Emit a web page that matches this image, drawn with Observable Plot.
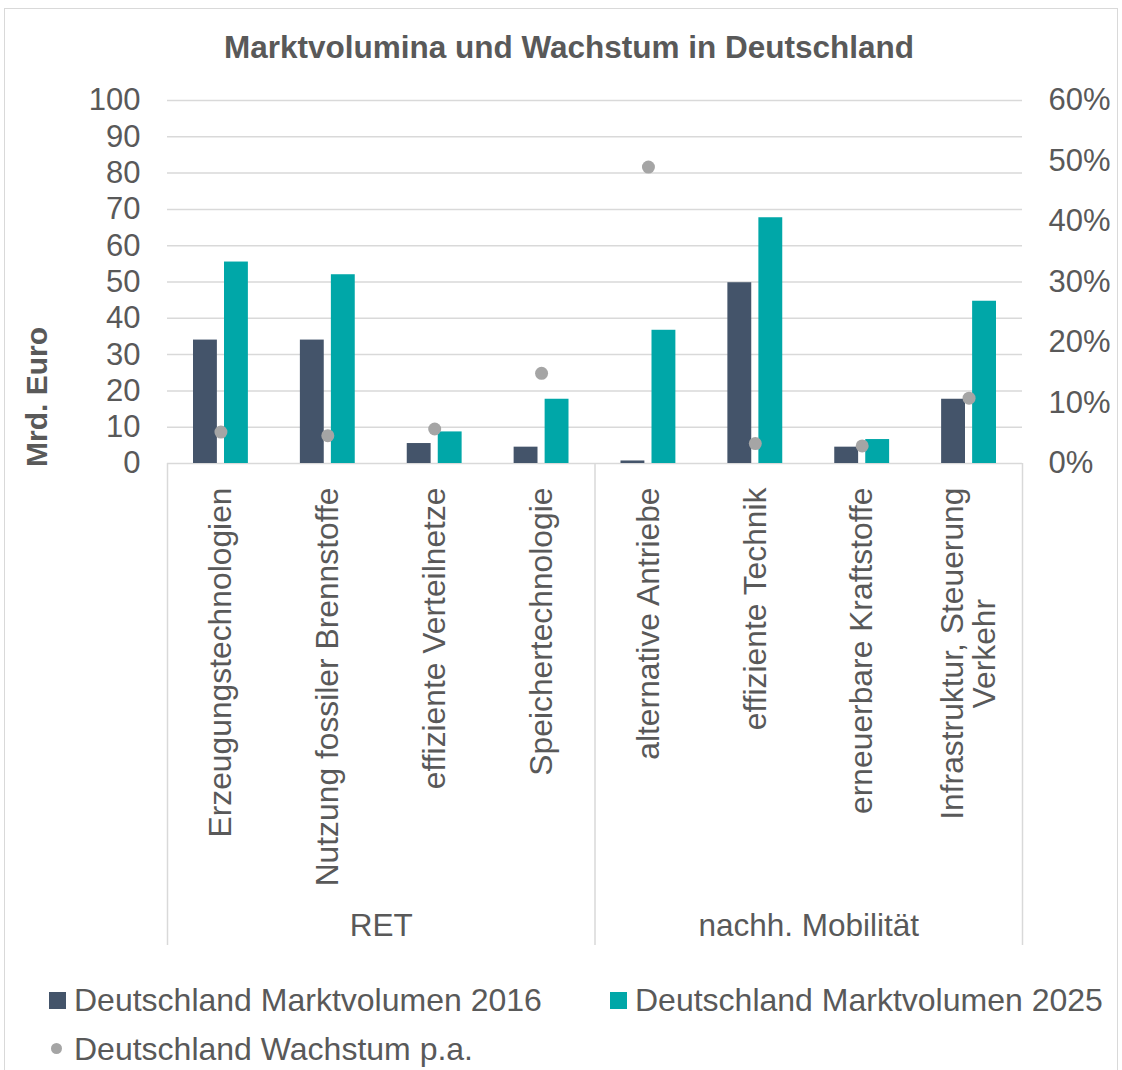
<!DOCTYPE html>
<html>
<head>
<meta charset="utf-8">
<script src="https://cdn.jsdelivr.net/npm/d3@7"></script>
<script src="https://cdn.jsdelivr.net/npm/@observablehq/plot@0.6"></script>
<style>
  body { margin: 0; background: #fff; font-family: "Liberation Sans", Arial, sans-serif; color: #595959; }
  #frame { position: absolute; left: 4px; top: 8px; width: 1114px; height: 1080px; border: 1.5px solid #d9d9d9; box-sizing: border-box; }
  #title { position: absolute; left: 0; top: 29px; width: 1138px; text-align: center; font-weight: bold; font-size: 31.5px; line-height: 36px; }
  #ylabel { position: absolute; left: -63px; top: 379px; width: 200px; height: 36px; line-height: 36px; text-align: center; font-weight: bold; font-size: 30px; transform: rotate(-90deg); }
  #chart { position: absolute; left: 0; top: 80px; }
  .item { position: absolute; font-size: 32px; line-height: 36px; white-space: nowrap; }
  .sw { position: absolute; width: 17px; height: 17px; }
  .dotsw { position: absolute; width: 11px; height: 11px; border-radius: 50%; background: #a5a5a5; }
</style>
</head>
<body>
<div id="frame"></div>
<div id="title">Marktvolumina und Wachstum in Deutschland</div>
<div id="ylabel">Mrd. Euro</div>
<div id="chart"></div>
<div id="legend"></div>
<script>
// ---- data ----
const categories = [
  "Erzeugungstechnologien",
  "Nutzung fossiler Brennstoffe",
  "effiziente Verteilnetze",
  "Speichertechnologie",
  "alternative Antriebe",
  "effiziente Technik",
  "erneuerbare Kraftstoffe",
  "Infrastruktur, Steuerung\nVerkehr"
];
const groups = ["RET", "RET", "RET", "RET", "nachh. Mobilität", "nachh. Mobilität", "nachh. Mobilität", "nachh. Mobilität"];
const volume2016 = [34, 34, 5.5, 4.5, 0.7, 49.8, 4.5, 17.7];
const volume2025 = [55.5, 52, 8.7, 17.7, 36.7, 67.7, 6.6, 44.7];
const growthPct = [5.2, 4.6, 5.7, 14.9, 49.0, 3.3, 2.9, 10.8];
const leftTicks = [0, 10, 20, 30, 40, 50, 60, 70, 80, 90, 100];
const rightTicks = [0, 10, 20, 30, 40, 50, 60];
const seriesNames = ["Deutschland Marktvolumen 2016", "Deutschland Marktvolumen 2025", "Deutschland Wachstum p.a."];
const colors = ["#44546A", "#00A7A8", "#A5A5A5"];

// ---- layout ----
const W = 1122, H = 880, mTop = 20, mBottom = 15;
const yZeroPx = 383, yTopPx = 20;           // pixel range of the value axis
const frameBottomPx = H - mBottom;

// ---- derived ----
const leftMax = d3.max(leftTicks), rightMax = d3.max(rightTicks);
const k = leftMax / rightMax; // secondary axis mapping
const yFrameBottom = -leftMax * (frameBottomPx - yZeroPx) / (yZeroPx - yTopPx); // y value at frame bottom
const data = categories.map((c, i) => ({cat: c, group: groups[i], i, v16: volume2016[i], v25: volume2025[i], g: growthPct[i]}));
const groupNames = [...new Set(groups)];
const groupSpans = groupNames.map(g => {
  const idx = data.filter(d => d.group === g).map(d => d.i);
  return {g, start: d3.min(idx), end: d3.max(idx) + 1};
});
const dividers = [...groupSpans.map(s => s.start), groupSpans[groupSpans.length - 1].end];

const fontFamily = '"Liberation Sans", Arial, sans-serif';
const plot = Plot.plot({
  width: W,
  height: H,
  marginLeft: 167,
  marginRight: 100,
  marginTop: mTop,
  marginBottom: mBottom,
  style: {fontFamily, color: "#595959", background: "transparent", overflow: "visible"},
  x: {domain: [0, categories.length], axis: null},
  y: {domain: [0, leftMax], range: [yZeroPx, yTopPx], axis: null},
  marks: [
    Plot.gridY(leftTicks, {stroke: "#d9d9d9", strokeOpacity: 1, strokeWidth: 1.5}),
    Plot.ruleX(dividers, {x: d => d, y1: 0, y2: yFrameBottom, stroke: "#d9d9d9", strokeWidth: 1.5}),
    Plot.axisY(leftTicks, {anchor: "left", tickSize: 0, tickPadding: 27, fontSize: 31, label: null}),
    Plot.axisY(rightTicks.map(p => p * k), {anchor: "right", tickSize: 0, tickPadding: 26, fontSize: 31, label: null,
      tickFormat: d => Math.round(d / k) + "%"}),
    Plot.rectY(data, {x1: d => d.i, x2: d => d.i + 1, y: "v16", fill: colors[0], insetLeft: 26, insetRight: 57}),
    Plot.rectY(data, {x1: d => d.i, x2: d => d.i + 1, y: "v25", fill: colors[1], insetLeft: 57, insetRight: 26}),
    Plot.dot(data, {x: d => d.i + 0.5, y: d => d.g * k, r: 6.5, fill: colors[2], stroke: null}),
    Plot.text(data, {x: d => d.i + 0.5, y: 0, text: "cat", rotate: -90, textAnchor: "end", lineAnchor: "middle",
      dy: 24, fontSize: 31.8, lineHeight: 1.0, fill: "#595959"}),
    Plot.text(groupSpans, {x: d => (d.start + d.end) / 2, frameAnchor: "bottom", text: "g", dy: -10, fontSize: 31.5, fill: "#595959"})
  ]
});
document.getElementById("chart").appendChild(plot);

// center the second line of multi-line category labels against the first (as Excel does)
d3.select(plot).selectAll("text").each(function() {
  const tspans = this.querySelectorAll("tspan");
  if (tspans.length > 1) {
    const L = tspans[0].getComputedTextLength();
    this.setAttribute("text-anchor", "middle");
    tspans.forEach(t => t.setAttribute("x", -L / 2));
  }
});

// ---- legend ----
const legend = document.getElementById("legend");
const legendItems = [
  {name: seriesNames[0], type: "sq", color: colors[0], sx: 49, sy: 992, tx: 74, ty: 982},
  {name: seriesNames[1], type: "sq", color: colors[1], sx: 610, sy: 992, tx: 635, ty: 982},
  {name: seriesNames[2], type: "dot", color: colors[2], sx: 51, sy: 1043, tx: 74, ty: 1031}
];
legendItems.forEach(it => {
  const s = document.createElement("div");
  s.className = it.type === "sq" ? "sw" : "dotsw";
  s.style.left = it.sx + "px"; s.style.top = it.sy + "px";
  if (it.type === "sq") s.style.background = it.color;
  legend.appendChild(s);
  const t = document.createElement("div");
  t.className = "item";
  t.style.left = it.tx + "px"; t.style.top = it.ty + "px";
  t.textContent = it.name;
  legend.appendChild(t);
});
</script>
</body>
</html>
